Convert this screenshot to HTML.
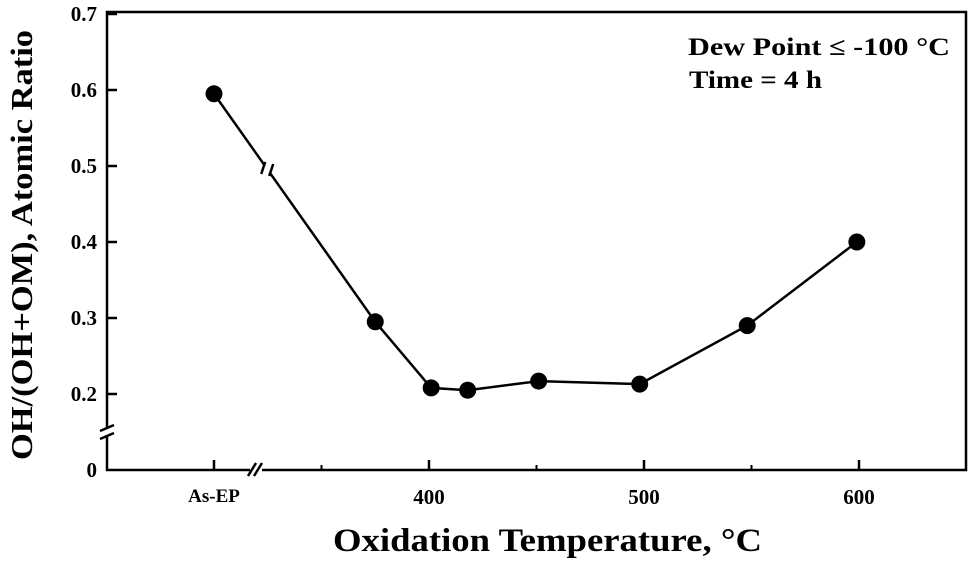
<!DOCTYPE html>
<html><head><meta charset="utf-8"><style>
body{margin:0;background:#fff}
svg{display:block;font-family:"Liberation Serif",serif;font-weight:bold}
</style></head><body>
<svg id="chart" width="974" height="562">
<rect x="107" y="12" width="859" height="458" fill="none" stroke="#000" stroke-width="2.5"/>
<g id="ticks"></g><g id="series"></g>
<text x="688" y="55" font-size="25" textLength="262" lengthAdjust="spacingAndGlyphs">Dew Point ≤  -100 °C</text>
<text x="689" y="88" font-size="25" textLength="133" lengthAdjust="spacingAndGlyphs">Time = 4 h</text>
<text x="333" y="551" font-size="33" textLength="429" lengthAdjust="spacingAndGlyphs">Oxidation Temperature, °C</text>
<text transform="translate(32,460) rotate(-90)" font-size="31" textLength="430" lengthAdjust="spacingAndGlyphs">OH/(OH+OM), Atomic Ratio</text>
</svg>
<script>
const xCats=["As-EP",375,401,418,451,498,548,599];
const yVals=[0.595,0.295,0.208,0.205,0.217,0.213,0.29,0.40];
const yTicks=[0.2,0.3,0.4,0.5,0.6,0.7];
const xTicks=[400,500,600];
const NS="http://www.w3.org/2000/svg";
function xs(v){return v==="As-EP"?214:429+(v-400)*2.15;}
function ys(v){return 394-(v-0.2)*760;}
function mk(t,a,p){const e=document.createElementNS(NS,t);for(const k in a)e.setAttribute(k,a[k]);p.appendChild(e);return e;}
const tg=document.getElementById('ticks'),sg=document.getElementById('series');
yTicks.forEach(v=>{const y=ys(v);
 const l=mk('line',{x1:107,x2:117,y1:y,y2:y,stroke:'#000','stroke-width':2.5},tg);
 
 
 const t=mk('text',{x:97,y:y+7,'font-size':21,'text-anchor':'end'},tg);t.textContent=v.toFixed(1);
 
 });
const z=mk('text',{x:97,y:477,'font-size':21,'text-anchor':'end'},tg);z.textContent='0';


["As-EP"].concat(xTicks).forEach(v=>{const x=xs(v);
 const l=mk('line',{x1:x,x2:x,y1:470,y2:460,stroke:'#000','stroke-width':2.5},tg);
 
 
 const t=mk('text',{x:x,y:v==="As-EP"?502:504,'font-size':v==="As-EP"?19:21,'text-anchor':'middle'},tg);t.textContent=v;
 
 });
[350,450,550].forEach(v=>{const x=xs(v);
 const l=mk('line',{x1:x,x2:x,y1:470,y2:465,stroke:'#000','stroke-width':2},tg);
 
 });
const b1=mk('rect',{x:250,y:465,width:12,height:10,fill:'#fff'},tg);


mk('path',{d:'M248,476 L256,463 M254,476 L262,463',stroke:'#000','stroke-width':2.5,fill:'none'},tg);
const b2=mk('rect',{x:102,y:427,width:10,height:10,fill:'#fff'},tg);


mk('path',{d:'M100,431 L114,425 M100,439 L114,433',stroke:'#000','stroke-width':2.5,fill:'none'},tg);
const pts=xCats.map((c,i)=>[xs(c),ys(yVals[i])]);
const ln=mk('polyline',{points:pts.map(p=>p.join(',')).join(' '),fill:'none',stroke:'#000','stroke-width':2.5},sg);


const mx=pts[0][0]+(pts[1][0]-pts[0][0])*0.33,my=pts[0][1]+(pts[1][1]-pts[0][1])*0.33;
mk('rect',{x:mx-4,y:my-4,width:8,height:8,fill:'#fff'},sg);
mk('path',{d:`M${mx-6},${my+5} L${mx-2},${my-7} M${mx+2},${my+7} L${mx+6},${my-5}`,stroke:'#000','stroke-width':2.5},sg);
pts.forEach(p=>{const c=mk('circle',{cx:p[0],cy:p[1],r:8.5,fill:'#000'},sg);
 
 });
</script>
</body></html>
